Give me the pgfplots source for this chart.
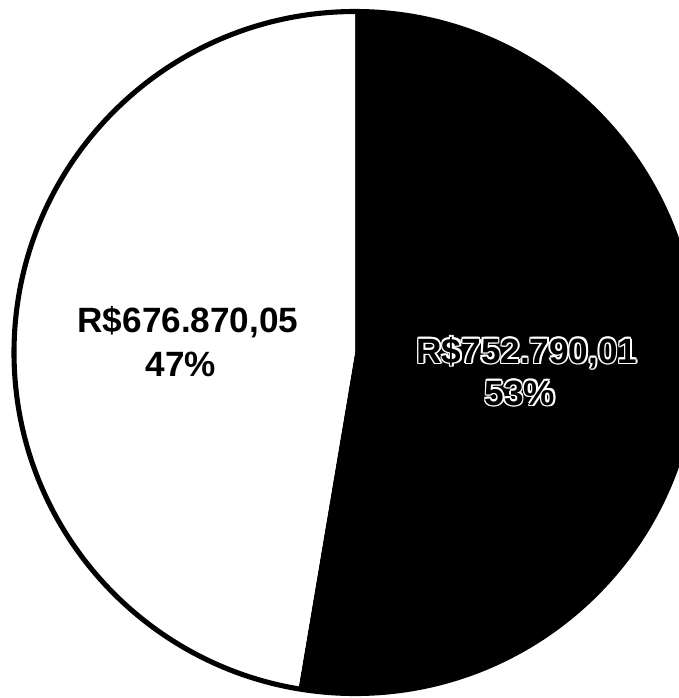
\documentclass[border=0pt]{standalone}
\usepackage{pgfplots}
\pgfplotsset{compat=1.18}
\usepackage{fontspec}
\setmainfont{Liberation Sans}
% data values
\def\valA{752790.01}
\def\valB{676870.05}
\edef\angA{\fpeval{360*\valA/(\valA+\valB)}}
\newcommand\outl[4]{%
  \node[white,anchor=base,font=\fontsize{10}{12}\bfseries] at ([shift={(-0.45pt,0pt)}]axis cs:#1,#2) {#3#4};
  \node[white,anchor=base,font=\fontsize{10}{12}\bfseries] at ([shift={(0.45pt,0pt)}]axis cs:#1,#2) {#3#4};
  \node[white,anchor=base,font=\fontsize{10}{12}\bfseries] at ([shift={(0pt,-0.45pt)}]axis cs:#1,#2) {#3#4};
  \node[white,anchor=base,font=\fontsize{10}{12}\bfseries] at ([shift={(0pt,0.45pt)}]axis cs:#1,#2) {#3#4};
  \node[white,anchor=base,font=\fontsize{10}{12}\bfseries] at ([shift={(-0.32pt,-0.32pt)}]axis cs:#1,#2) {#3#4};
  \node[white,anchor=base,font=\fontsize{10}{12}\bfseries] at ([shift={(0.32pt,0.32pt)}]axis cs:#1,#2) {#3#4};
  \node[white,anchor=base,font=\fontsize{10}{12}\bfseries] at ([shift={(0.32pt,-0.32pt)}]axis cs:#1,#2) {#3#4};
  \node[white,anchor=base,font=\fontsize{10}{12}\bfseries] at ([shift={(-0.32pt,0.32pt)}]axis cs:#1,#2) {#3#4};
  \node[black,anchor=base,font=\fontsize{10}{12}\bfseries] at (axis cs:#1,#2) {#3#4};
}
\begin{document}
\begin{tikzpicture}
\begin{axis}[
  width=6.79cm, height=6.98cm, scale only axis,
  xmin=0, xmax=679, ymin=0, ymax=698, y dir=reverse,
  hide axis, clip=true,
]
\addplot[draw=none, forget plot] coordinates {(0,0) (679,698)};
\fill[black] (axis cs:355,352.5) -- ++(90:3.41cm) arc[start angle=90, end angle={90-\angA}, radius=3.41cm] -- cycle;
\fill[white] (axis cs:355,352.5) -- ++(90:3.41cm) arc[start angle=90, end angle={90+360-\angA}, radius=3.41cm] -- cycle;
\draw[black, line width=1.45pt] (axis cs:355,352.5) circle[radius=3.41cm];
\node[black,anchor=base,font=\fontsize{10}{12}\bfseries] at (axis cs:188,332) {R\$676.870,05};
\node[black,anchor=base,font=\fontsize{10}{12}\bfseries] at (axis cs:181,376) {47\%};
\outl{527}{363}{R\$752.790,01}{}
\outl{520}{405}{53\%}{}
\end{axis}
\pgfresetboundingbox
\useasboundingbox (current axis.south west) rectangle (current axis.north east);
\end{tikzpicture}
\end{document}
